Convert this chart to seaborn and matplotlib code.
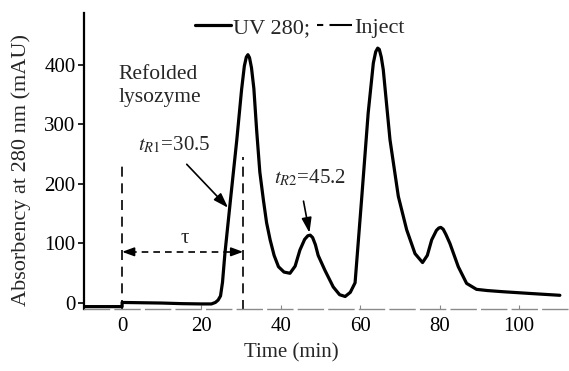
import matplotlib
matplotlib.use("Agg")
import matplotlib.pyplot as plt
from matplotlib.lines import Line2D
import seaborn as sns
import pandas as pd

# ---- data ----
time_min = [-9.6, 0.0, 0.0, 5.0, 10.0, 15.0, 20.0, 22.5, 23.5, 24.2, 24.8, 25.3,
            25.9, 27.3, 28.9, 30.1, 30.8, 31.3, 31.7, 32.1, 32.6, 33.2, 33.9,
            34.7, 35.6, 36.4, 37.3, 38.3, 39.4, 40.8, 42.3, 43.6, 44.8, 46.0,
            46.8, 47.4, 48.0, 48.7, 49.4, 51.1, 53.2, 54.8, 56.2, 57.5, 58.7,
            60.4, 62.0, 63.3, 63.9, 64.4, 64.8, 65.3, 65.8, 67.5, 69.6, 71.7,
            73.8, 75.7, 76.9, 78.0, 79.2, 79.8, 80.3, 80.9, 81.6, 82.6, 84.7,
            86.8, 89.3, 92.0, 96.0, 103.0, 110.3]
absorbance = [-6, -6, 1, 0.5, 0, -1, -1.5, -1.5, 1, 5, 12, 35,
              83, 173, 274, 358, 398, 413, 417, 412, 395, 360, 290,
              220, 173, 135, 106, 80, 61, 52, 50, 62, 89, 107,
              113, 114, 110, 98, 80, 55, 27, 14, 11, 18, 34,
              179, 319, 403, 422, 428, 426, 413, 392, 274, 179, 123,
              83, 68, 80, 106, 122, 126, 127, 124, 115, 100, 61,
              33, 23, 21, 19, 16, 13]

x_ticks = [0, 20, 40, 60, 80, 100]
y_ticks = [0, 100, 200, 300, 400]

inject_time = 0.0
tr1 = 30.5
tr2 = 45.2
tr2_peak = 114
tau_level = 86
legend_labels = ["UV 280;", "Inject"]

df = pd.DataFrame({"Time": time_min, "Abs": absorbance})

sns.set_theme(style="ticks")
plt.rcParams["font.family"] = ["Liberation Serif", "DejaVu Serif"]
plt.rcParams["mathtext.fontset"] = "stix"

fig = plt.figure(figsize=(5.69, 3.71), dpi=100)
ax = fig.add_axes([84 / 569, 1 - 309 / 371, 1 - 84 / 569, (309 - 13) / 371])

sns.lineplot(data=df, x="Time", y="Abs", ax=ax, color="black", lw=2.3,
             sort=False, estimator=None)

ax.set_xlim(-9.6, 112.6)
ax.set_ylim(-10, 487)
ax.set_xticks(x_ticks)
ax.set_yticks(y_ticks)

fs = 15
ax.tick_params(axis="y", direction="out", length=4, width=1.2, pad=2,
               labelsize=fs, colors="black")
ax.tick_params(axis="x", direction="in", length=3, width=0.8, pad=6,
               labelsize=fs, color="#888888", labelcolor="black")

for s in ["top", "right"]:
    ax.spines[s].set_visible(False)
ax.spines["left"].set_linewidth(1.6)
ax.spines["left"].set_color("black")
ax.spines["bottom"].set_color("#8a8a8a")
ax.spines["bottom"].set_linewidth(1.0)
ax.spines["bottom"].set_linestyle((0, (18, 4)))

ax.set_xlabel("Time (min)", fontsize=fs)
ax.set_ylabel("Absorbency at 280 nm (mAU)", fontsize=16)
ax.xaxis.set_label_coords((291 - 84) / 485, (309 - 343) / 296)
ax.yaxis.set_label_coords((31 - 84) / 485, (309 - 170) / 296)

dash = (0, (6, 4))
# injection marker and retention marker
ax.vlines(inject_time, -12, 235, colors="black", linestyles=dash, lw=1.2,
          clip_on=False)
ax.vlines(tr1, -12, 246, colors="black", linestyles=dash, lw=1.2,
          clip_on=False)

# tau double arrow
ax.hlines(tau_level, inject_time + 2, tr1 - 2, colors="black",
          linestyles=(0, (4, 3)), lw=1.2)
ax.annotate("", xy=(inject_time, tau_level), xytext=(inject_time + 3, tau_level),
            arrowprops=dict(arrowstyle="-|>,head_length=0.6,head_width=0.22",
                            color="black", lw=1.2, shrinkA=0, shrinkB=0))
ax.annotate("", xy=(tr1, tau_level), xytext=(tr1 - 3, tau_level),
            arrowprops=dict(arrowstyle="-|>,head_length=0.6,head_width=0.22",
                            color="black", lw=1.2, shrinkA=0, shrinkB=0))
ax.text(15.9, tau_level + 6, "τ", fontsize=fs, ha="center", va="bottom")

ax.text(-1.0, 383, "Refolded", fontsize=15.5, ha="left", va="center")
ax.text(-1.0, 345, "lysozyme", fontsize=15.5, ha="left", va="center")

ax.annotate(r"$t_{R1}$=" + f"{tr1}", xy=(26.7, 160), xytext=(4.0, 266),
            fontsize=fs, ha="left", va="center",
            arrowprops=dict(arrowstyle="-|>,head_length=0.6,head_width=0.2",
                            color="black", lw=1.2, shrinkA=6, shrinkB=0,
                            relpos=(0.55, 0.0)))
ax.annotate(r"$t_{R2}$=" + f"{tr2}", xy=(47.2, tr2_peak + 4), xytext=(38.2, 210),
            fontsize=fs, ha="left", va="center",
            arrowprops=dict(arrowstyle="-|>,head_length=0.6,head_width=0.2",
                            color="black", lw=1.2, shrinkA=7, shrinkB=0,
                            relpos=(0.38, 0.0)))

handles = [Line2D([], [], color="black", lw=2.3),
           Line2D([], [], color="black", lw=1.5, linestyle=(0, (3, 3, 9, 0)))]
ax.legend(handles, legend_labels, loc="center left",
          bbox_to_anchor=((195 - 84) / 485, (309 - 28) / 296),
          ncol=2, frameon=False, fontsize=16, handlelength=1.6,
          handletextpad=0.1, columnspacing=0.3, borderpad=0, borderaxespad=0)

fig.savefig("out.png", dpi=100)
